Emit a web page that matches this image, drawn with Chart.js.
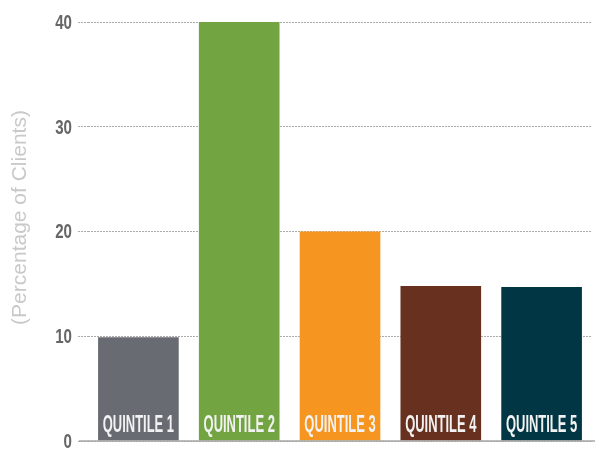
<!DOCTYPE html>
<html>
<head>
<meta charset="utf-8">
<script src="https://cdn.jsdelivr.net/npm/chart.js@4"></script>
<style>
  html, body { margin: 0; padding: 0; background: #fff; }
  #wrap { width: 595px; height: 450px; }
</style>
</head>
<body>
<div id="wrap"><canvas id="chart"></canvas></div>
<script>
// data
var categories = ['QUINTILE 1', 'QUINTILE 2', 'QUINTILE 3', 'QUINTILE 4', 'QUINTILE 5'];
var percents   = [9.9, 40, 20, 14.8, 14.7];
var barColors  = ['#686b72', '#73a442', '#f6951f', '#68311f', '#013745'];
var yTicks     = [0, 10, 20, 30, 40];
var yTitle     = '(Percentage of Clients)';

// narrow text: canvas has no condensed font here, so squeeze it
function squeezeText(ctx, text, x, y, font, squeeze) {
  ctx.save();
  ctx.font = font;
  ctx.translate(x, y);
  ctx.scale(squeeze, 1);
  ctx.fillText(text, 0, 0);
  ctx.restore();
}

var labelsPlugin = {
  id: 'labels',
  afterDatasetsDraw(chart) {
    var ctx = chart.ctx;
    var meta = chart.getDatasetMeta(0);
    ctx.fillStyle = '#f2f2f2';
    ctx.textAlign = 'center';
    ctx.textBaseline = 'alphabetic';
    meta.data.forEach((bar, i) => {
      squeezeText(ctx, categories[i], bar.x, bar.base - 9,
        'bold 24px "Liberation Sans", sans-serif', 0.54);
    });
  },
  afterDraw(chart) {
    var ctx = chart.ctx;
    var y = chart.scales.y;
    var area = chart.chartArea;
    // tick numbers
    ctx.fillStyle = '#666';
    ctx.textAlign = 'right';
    ctx.textBaseline = 'middle';
    yTicks.forEach(v => {
      squeezeText(ctx, String(v), 72, y.getPixelForValue(v) + 1,
        'bold 21px "Liberation Sans", sans-serif', 0.72);
    });
    // solid baseline
    ctx.save();
    ctx.strokeStyle = '#a6a6a6';
    ctx.lineWidth = 1.5;
    ctx.beginPath();
    ctx.moveTo(area.left - 9, y.getPixelForValue(0));
    ctx.lineTo(chart.width, y.getPixelForValue(0));
    ctx.stroke();
    ctx.restore();
    // axis title
    ctx.save();
    ctx.fillStyle = '#c9c9c9';
    ctx.font = '21px "Liberation Sans", Arial, sans-serif';
    ctx.textAlign = 'center';
    ctx.textBaseline = 'middle';
    ctx.translate(20, (area.top + area.bottom) / 2 - 14);
    ctx.rotate(-Math.PI / 2);
    ctx.fillText(yTitle, 0, 0);
    ctx.restore();
  }
};

new Chart(document.getElementById('chart'), {
  type: 'bar',
  data: {
    labels: categories,
    datasets: [{
      data: percents,
      backgroundColor: barColors,
      borderWidth: 0,
      barPercentage: 0.8,
      categoryPercentage: 1.0
    }]
  },
  options: {
    responsive: true,
    maintainAspectRatio: false,
    animation: false,
    layout: { padding: { top: 22, bottom: 9, right: 3, left: 0 } },
    plugins: { legend: { display: false }, tooltip: { enabled: false } },
    scales: {
      x: {
        ticks: { display: false },
        grid: { display: false, drawTicks: false },
        border: { display: false }
      },
      y: {
        min: 0, max: 40,
        ticks: { display: false, stepSize: 10 },
        grid: { color: '#ababab', lineWidth: 1, drawTicks: true, tickLength: 10,
                tickBorderDash: [2, 1] },
        border: { display: false, dash: [2, 1] },
        afterFit(scale) { scale.width = 88; }
      }
    }
  },
  plugins: [labelsPlugin]
});
</script>
</body>
</html>
